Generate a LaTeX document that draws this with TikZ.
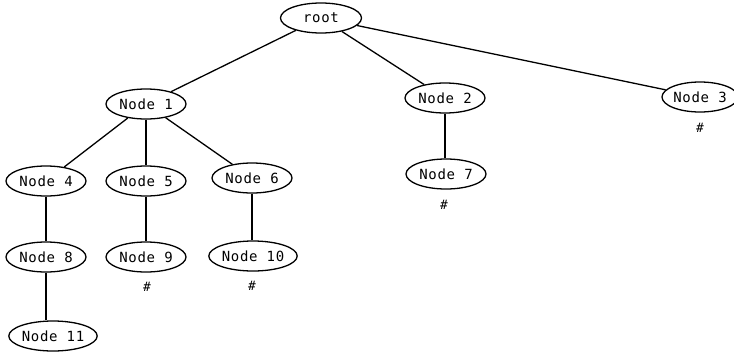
\documentclass[tikz,border=0pt]{standalone}
\usepackage{fontspec}
\setmonofont[LetterSpace=5]{DejaVu Sans Mono}
\newfontfamily\markfont{DejaVu Sans Mono Oblique}
\usetikzlibrary{shapes.geometric}
\tikzset{
  treenode/.style={ellipse, draw, line width=1.3pt, inner sep=0pt,
    minimum width=80pt, minimum height=30pt,
    font=\fontsize{14}{14}\selectfont\ttfamily},
  leafmark/.style={inner sep=0pt, font=\fontsize{13}{13}\selectfont\markfont},
  branch/.style={line width=1.3pt}
}
\begin{document}
\begin{tikzpicture}[x=1pt,y=-1pt]
  \useasboundingbox (0,0) rectangle (734,359);
  % tree nodes
  \node[treenode, minimum width=81pt] (root) at (321,18) {root};
  \node[treenode] (n1) at (146,104) {Node 1};
  \node[treenode] (n2) at (445,98) {Node 2};
  \node[treenode, minimum width=76pt] (n3) at (700,97) {Node 3};
  \node[treenode] (n4) at (46,181) {Node 4};
  \node[treenode] (n5) at (146,181) {Node 5};
  \node[treenode] (n6) at (252,178) {Node 6};
  \node[treenode] (n7) at (446,174) {Node 7};
  \node[treenode] (n8) at (46,257) {Node 8};
  \node[treenode] (n9) at (146,257) {Node 9};
  \node[treenode] (n10) at (253,256) {Node 10};
  \node[treenode, minimum width=86pt] (n11) at (53,336) {Node 11};
  % leaf markers
  \node[leafmark] (h3) at (700,128) {\#};
  \node[leafmark] (h7) at (444,205) {\#};
  \node[leafmark] (h9) at (147,287) {\#};
  \node[leafmark] (h10) at (252,286) {\#};
  % branches from the root and Node 1
  \draw[branch] (root) -- (n1);
  \draw[branch] (root) -- (n2);
  \draw[branch] (root) -- (n3);
  \draw[branch] (n1) -- (n4);
  \draw[branch] (n1) -- (n5);
  \draw[branch] (n1) -- (n6);
  % vertical branches
  \draw[branch] (n2.south) -- (n2.south |- n7.north);
  \draw[branch] (n4.south) -- (n4.south |- n8.north);
  \draw[branch] (n5.south) -- (n5.south |- n9.north);
  \draw[branch] (n6.south) -- (n6.south |- n10.north);
  \draw[branch] (n8.south) -- (n8.south |- n11.north);
\end{tikzpicture}
\end{document}
